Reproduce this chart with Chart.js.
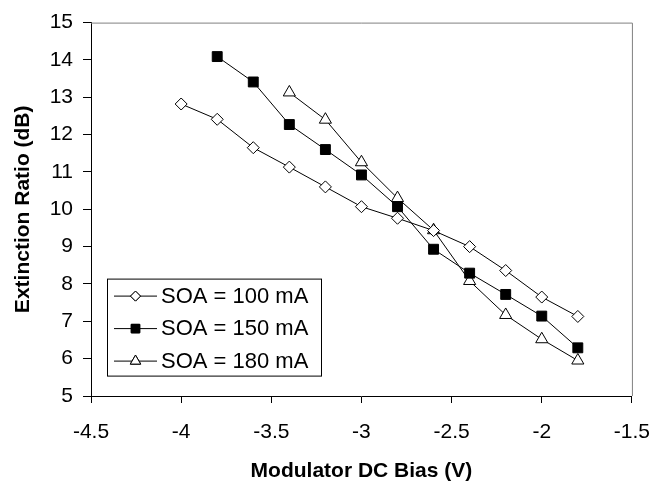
<!DOCTYPE html>
<html>
<head>
<meta charset="utf-8">
<script src="https://cdn.jsdelivr.net/npm/chart.js@4"></script>
<style>
  html, body { margin: 0; padding: 0; background: #fff; }
  #wrap { width: 667px; height: 482px; }
</style>
</head>
<body>
<div id="wrap"><canvas id="chart" width="667" height="482"></canvas></div>
<script>
// chart values
const labels = ['SOA = 100 mA', 'SOA = 150 mA', 'SOA = 180 mA']
const bias100 = [-4.0, -3.8, -3.6, -3.4, -3.2, -3.0, -2.8, -2.6, -2.4, -2.2, -2.0, -1.8]
const ratio100 = [12.82, 12.41, 11.65, 11.13, 10.6, 10.07, 9.76, 9.43, 9.0, 8.36, 7.65, 7.13]
const bias150 = [-3.8, -3.6, -3.4, -3.2, -3.0, -2.8, -2.6, -2.4, -2.2, -2.0, -1.8]
const ratio150 = [14.09, 13.41, 12.27, 11.6, 10.92, 10.07, 8.93, 8.29, 7.72, 7.14, 6.29]
const bias180 = [-3.4, -3.2, -3.0, -2.8, -2.6, -2.4, -2.2, -2.0, -1.8]
const ratio180 = [13.13, 12.4, 11.26, 10.3, 9.44, 8.08, 7.17, 6.52, 5.95]
const xTicks = [-4.5, -4, -3.5, -3, -2.5, -2, -1.5]
const yTicks = [5, 6, 7, 8, 9, 10, 11, 12, 13, 14, 15]

const toPoints = (xs, ys) => xs.map((x, i) => ({ x: x, y: ys[i] }))

const FONT = "'Liberation Sans', Arial, sans-serif"

// grey top/right frame of the plot area
const frame = {
  id: 'frame',
  beforeDatasetsDraw(chart) {
    const { ctx, chartArea: a } = chart
    ctx.save()
    ctx.strokeStyle = '#808080'
    ctx.lineWidth = 1
    ctx.beginPath()
    ctx.moveTo(a.left, a.top + 0.5)
    ctx.lineTo(a.right + 0.5, a.top + 0.5)
    ctx.lineTo(a.right + 0.5, a.bottom)
    ctx.stroke()
    ctx.restore()
  },
}

// boxed legend inside the plot, bottom left
const boxLegend = {
  id: 'boxLegend',
  afterDatasetsDraw(chart) {
    const { ctx, chartArea: a } = chart
    const left = a.left + 16
    const top = a.top + 256
    const w = 214
    const h = 97
    ctx.save()
    ctx.fillStyle = '#fff'
    ctx.fillRect(left, top, w, h)
    ctx.strokeStyle = '#000'
    ctx.lineWidth = 1
    ctx.strokeRect(left + 0.5, top + 0.5, w, h)
    ctx.font = '22px ' + FONT
    ctx.textBaseline = 'middle'
    chart.data.datasets.forEach((ds, i) => {
      const y = top + 17 + i * 32.5
      ctx.strokeStyle = '#000'
      ctx.beginPath()
      ctx.moveTo(left + 7, y + 0.5)
      ctx.lineTo(left + 50, y + 0.5)
      ctx.stroke()
      Chart.helpers.drawPoint(ctx, {
        pointStyle: ds.pointStyle,
        radius: ds.pointRadius - 1,
        borderWidth: 1,
      }, left + 28.5, y + 0.5)
      ctx.fillStyle = ds.pointBackgroundColor
      ctx.fill()
      ctx.stroke()
      ctx.fillStyle = '#000'
      ctx.fillText(ds.label, left + 54, y + 1)
    })
    ctx.restore()
  },
}

const series = [
  { data: toPoints(bias100, ratio100), style: 'rectRot', fill: '#fff', r: 6 },
  { data: toPoints(bias150, ratio150), style: 'rect', fill: '#000', r: 7 },
  { data: toPoints(bias180, ratio180), style: 'triangle', fill: '#fff', r: 7 },
]

new Chart(document.getElementById('chart'), {
  type: 'line',
  data: {
    datasets: series.map((s, i) => ({
      label: labels[i],
      data: s.data,
      borderColor: '#000',
      borderWidth: 1,
      pointStyle: s.style,
      pointRadius: s.r,
      pointBackgroundColor: s.fill,
      pointBorderColor: '#000',
      pointBorderWidth: 1,
      tension: 0,
      clip: false,
    })),
  },
  options: {
    responsive: false,
    animation: false,
    events: [],
    layout: { padding: { top: 21, right: 33, left: 0, bottom: 0 } },
    plugins: {
      legend: { display: false },
      tooltip: { enabled: false },
    },
    scales: {
      x: {
        type: 'linear',
        min: -4.5,
        max: -1.5,
        afterBuildTicks: (axis) => { axis.ticks = xTicks.map((v) => ({ value: v })) },
        afterFit: (axis) => { axis.height = 86 },
        border: { color: '#000', width: 1 },
        grid: { drawOnChartArea: false, drawTicks: true, tickLength: 7, color: '#000' },
        ticks: {
          color: '#000',
          padding: 17,
          maxRotation: 0,
          font: { family: FONT, size: 21 },
          callback: (v) => String(v),
        },
        title: {
          display: true,
          text: 'Modulator DC Bias (V)',
          color: '#000',
          font: { family: FONT, size: 21, weight: 'bold', lineHeight: 1 },
          padding: { top: 0, bottom: 0 },
        },
      },
      y: {
        min: 5,
        max: 15,
        afterBuildTicks: (axis) => { axis.ticks = yTicks.map((v) => ({ value: v })) },
        afterFit: (axis) => { axis.width = 91 },
        border: { color: '#000', width: 1 },
        grid: { drawOnChartArea: false, drawTicks: true, tickLength: 8, color: '#000' },
        ticks: {
          color: '#000',
          padding: 10,
          font: { family: FONT, size: 21 },
        },
        title: {
          display: true,
          text: 'Extinction Ratio (dB)',
          color: '#000',
          font: { family: FONT, size: 21, weight: 'bold' },
          padding: { top: 11, bottom: 0 },
        },
      },
    },
  },
  plugins: [frame, boxLegend],
})
</script>
</body>
</html>
